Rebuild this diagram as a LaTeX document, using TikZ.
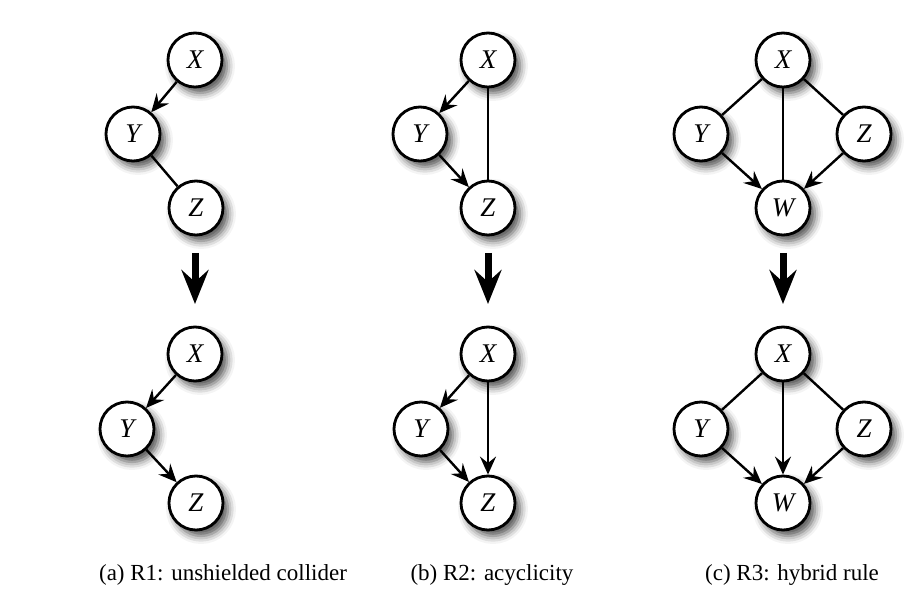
\documentclass[tikz,border=0pt]{standalone}
\usepackage{fontspec}
\setmainfont{Liberation Serif}
\usetikzlibrary{arrows.meta,shadows.blur}
\tikzset{
  vertex/.style={circle,draw,line width=1.4pt,fill=white,minimum size=27pt,inner sep=0pt,
    font=\fontsize{13.5}{15}\selectfont\itshape,
    blur shadow={shadow xshift=2.5pt,shadow yshift=-3pt,shadow blur radius=4pt,shadow opacity=70}},
  dedge/.style={line width=1.2pt,-{Stealth[length=9pt,width=8pt,inset=3.2pt]}},
  uedge/.style={line width=1.2pt},
  bigarrow/.style={line width=3.5pt,-{Stealth[length=17pt,width=13.5pt,inset=6pt]}},
  caption/.style={font=\fontsize{11.5}{14}\selectfont}
}
\begin{document}
\begin{tikzpicture}[x=0.5pt,y=-0.5pt]
\useasboundingbox (0,0) rectangle (916,598);

% (a) R1
\node[vertex] (a1x) at (195,60) {X};
\node[vertex] (a1y) at (133,134) {Y};
\node[vertex] (a1z) at (196,208) {Z};
\draw[dedge] (a1x) -- (a1y);
\draw[uedge] (a1y) -- (a1z);

\coordinate (a0) at (195,253);
\coordinate (a2) at (195,304);
\draw[bigarrow] (a0) -- (a2);

\node[vertex] (a2x) at (195,354) {X};
\node[vertex] (a2y) at (127,429) {Y};
\node[vertex] (a2z) at (196,503) {Z};
\draw[dedge] (a2x) -- (a2y);
\draw[dedge] (a2y) -- (a2z);

\node[caption] (acap) at (223,575) {(a) R1: unshielded collider};

% (b) R2
\node[vertex] (b1x) at (488,60) {X};
\node[vertex] (b1y) at (420,134) {Y};
\node[vertex] (b1z) at (488,208) {Z};
\draw[dedge] (b1x) -- (b1y);
\draw[dedge] (b1y) -- (b1z);
\draw[uedge] (b1x) -- (b1z);

\coordinate (b0) at (488,253);
\coordinate (b2) at (488,304);
\draw[bigarrow] (b0) -- (b2);

\node[vertex] (b2x) at (488,354) {X};
\node[vertex] (b2y) at (421,429) {Y};
\node[vertex] (b2z) at (488,503) {Z};
\draw[dedge] (b2x) -- (b2y);
\draw[dedge] (b2y) -- (b2z);
\draw[dedge] (b2x) -- (b2z);

\node[caption] (bcap) at (492,575) {(b) R2: acyclicity};

% (c) R3
\node[vertex] (c1x) at (783,60) {X};
\node[vertex] (c1y) at (701,134) {Y};
\node[vertex] (c1z) at (864,134) {Z};
\node[vertex] (c1w) at (783,208) {W};
\draw[uedge] (c1x) -- (c1y);
\draw[uedge] (c1x) -- (c1z);
\draw[uedge] (c1x) -- (c1w);
\draw[dedge] (c1y) -- (c1w);
\draw[dedge] (c1z) -- (c1w);

\coordinate (c0) at (783,253);
\coordinate (c2) at (783,304);
\draw[bigarrow] (c0) -- (c2);

\node[vertex] (c2x) at (783,354) {X};
\node[vertex] (c2y) at (701,429) {Y};
\node[vertex] (c2z) at (864,429) {Z};
\node[vertex] (c2w) at (783,503) {W};
\draw[uedge] (c2x) -- (c2y);
\draw[uedge] (c2x) -- (c2z);
\draw[dedge] (c2x) -- (c2w);
\draw[dedge] (c2y) -- (c2w);
\draw[dedge] (c2z) -- (c2w);

\node[caption] (ccap) at (792,575) {(c) R3: hybrid rule};

\end{tikzpicture}
\end{document}
